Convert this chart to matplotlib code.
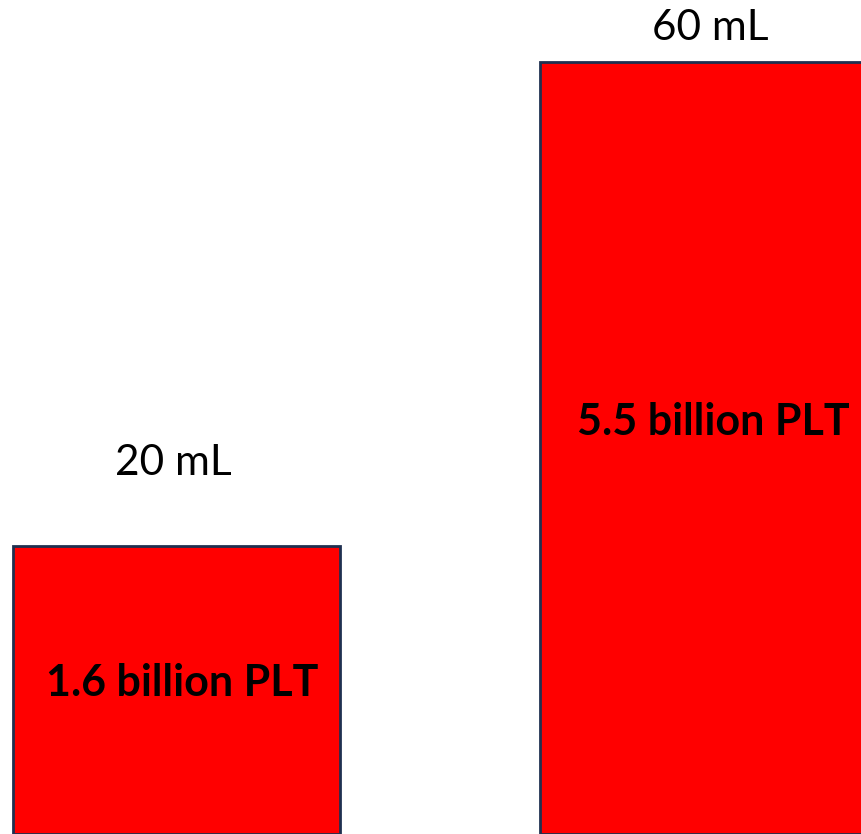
import matplotlib
matplotlib.use("Agg")
import matplotlib.pyplot as plt

# Syringe volumes and the platelet yield collected from each
volumes_ml = [20, 60]
volume_labels = ["20 mL", "60 mL"]
yield_labels = ["1.6 billion PLT", "5.5 billion PLT"]

fill_color = "#FF0000"
edge_color = "#1F3050"
baseline = -3.8

fig = plt.figure(figsize=(8.61, 8.34), dpi=100)
ax = fig.add_axes([0, 0, 1, 1])

x = list(range(len(volumes_ml)))
heights = [v - baseline for v in volumes_ml]
ax.bar(x, heights, bottom=baseline, width=0.6205, color=fill_color,
       edgecolor=edge_color, linewidth=2, clip_on=True)

ax.set_xlim(-0.335, 1.299)
ax.set_ylim(-3.8, 65.12)
ax.axis("off")

font = "Lato"
# volume captions above each bar
ax.annotate(volume_labels[0], xy=(x[0], volumes_ml[0]), xytext=(-2, 60),
            textcoords="offset points", ha="center", va="center",
            fontsize=30.5, family=font)
ax.annotate(volume_labels[1], xy=(x[1], volumes_ml[1]), xytext=(5, 24.5),
            textcoords="offset points", ha="center", va="center",
            fontsize=30.5, family=font)

# platelet yield written inside each bar
ax.annotate(yield_labels[0], xy=(x[0], volumes_ml[0]), xytext=(4, -98.5),
            textcoords="offset points", ha="center", va="center",
            fontsize=31, fontweight="bold", family=font)
ax.annotate(yield_labels[1], xy=(x[1], volumes_ml[1]), xytext=(7, -259.5),
            textcoords="offset points", ha="center", va="center",
            fontsize=31, fontweight="bold", family=font)

fig.savefig("out.png", dpi=100)
